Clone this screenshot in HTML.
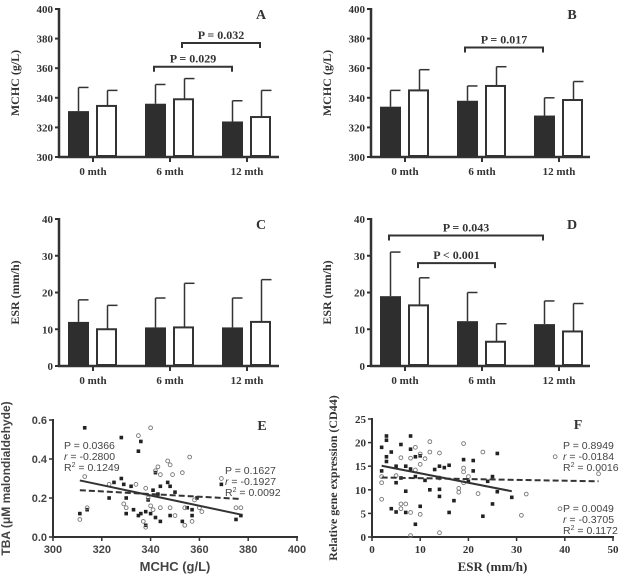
<!DOCTYPE html>
<html><head><meta charset="utf-8"><style>
body{margin:0;background:#fff}
svg{display:block}
.sr{font-family:"Liberation Serif",serif;font-weight:bold;fill:#333}
.ss{font-family:"Liberation Sans",sans-serif;fill:#444}
</style></head><body>
<svg id="fig" width="640" height="576" viewBox="0 0 640 576" xmlns="http://www.w3.org/2000/svg"></svg>
<script>
const NS="http://www.w3.org/2000/svg";
const svg=document.getElementById('fig');
const categories=["0 mth","6 mth","12 mth"];
// Panel A
const aBlack=[331,336,324], aBlackErr=[347,349,338], aWhite=[334.5,339,327], aWhiteErr=[345,353,345];
// Panel B
const bBlack=[334,338,328], bBlackErr=[345,348,340], bWhite=[345,348,338.5], bWhiteErr=[359,361,351];
// Panel C
const cBlack=[12,10.5,10.5], cBlackErr=[18,18.5,18.5], cWhite=[10,10.5,12], cWhiteErr=[16.5,22.5,23.5];
// Panel D
const dBlack=[19,12.2,11.4], dBlackErr=[31,20,17.7], dWhite=[16.5,6.6,9.4], dWhiteErr=[24,11.5,17];
const mchcTicks=[300,320,340,360,380,400];
const esrTicks=[0,10,20,30,40];
// Panel E scatter
const eSqX=[311,313,314,323,325,328,328,329,330,330,332,333,335,336,335,336,338,338,339,340,341,342,342,343,344,344,347,348,348,350,353,355,357,357,359,369,375,377];
const eSqY=[0.12,0.56,0.14,0.2,0.28,0.51,0.3,0.27,0.12,0.2,0.26,0.14,0.44,0.49,0.11,0.12,0.13,0.06,0.19,0.12,0.24,0.1,0.33,0.22,0.08,0.26,0.28,0.11,0.26,0.23,0.08,0.15,0.11,0.14,0.2,0.27,0.09,0.11];
const eCiX=[311,313,314,323,329,330,334,335,337,338,338,339,340,340,341,342,343,344,344,347,348,348,349,350,353,354,354,356,357,358,360,361,369,375,377];
const eCiY=[0.09,0.31,0.15,0.27,0.17,0.15,0.27,0.52,0.08,0.25,0.05,0.2,0.56,0.16,0.14,0.34,0.36,0.32,0.15,0.39,0.37,0.15,0.32,0.11,0.33,0.06,0.15,0.41,0.08,0.19,0.15,0.13,0.3,0.15,0.15];
const eSolid=[[311,0.29],[377,0.115]], eDash=[[311,0.24],[377,0.195]];
const eXTicks=[300,320,340,360,380,400], eYTicks=[0,0.2,0.4,0.6], eYLabels=["0.0","0.2","0.4","0.6"];
// Panel F scatter
const fSqX=[2,2,3,3,3,3,4,4,5,5,5,6,6,7,7,7,8,8,8,9,9,9,10,10,11,12,13,14,14,14,15,16,16,17,19,20,21,21,23,24,25,25,26,26,29];
const fSqY=[19,14,21.4,20.5,17,16,18,6,5.3,11.5,15,19.6,12.5,9.7,5.2,15,21.4,14.4,18.6,17,12.8,2.7,17.2,6.5,12,10,14.3,8.6,10.1,15,14.7,5.2,15.2,7.7,16.4,11.8,16.2,14,4.4,11.8,7,12.8,17.7,9.6,8.4];
const fCiX=[2,2,2,5,6,6,6,7,8,8,8,9,9,10,10,10,11,12,12,14,14,14,18,18,19,19,19,19,20,22,23,31,32,47,38,39];
const fCiY=[8,11.5,12.8,13,6,7,16.8,7,0.3,16.7,5.2,14.2,19,17.6,4.8,15.4,16.6,20.2,18,17.8,0.9,12.5,9.5,10.3,19.8,14.6,13.8,11.5,12.8,9.2,18,4.6,9.1,13.4,17,6];
const fSolid=[[2,15.1],[29,9.7]], fDash=[[2,12.6],[47,11.8]];
const fXTicks=[0,10,20,30,40,50], fYTicks=[0,5,10,15,20,25];

function el(tag,attrs,parent){const e=document.createElementNS(NS,tag);for(const k in attrs)e.setAttribute(k,attrs[k]);(parent||svg).appendChild(e);return e;}
function txt(s,attrs,parent){const e=el('text',attrs,parent);e.textContent=s;return e;}

function barPanel(id,ox,yTop,yBot,axEnd,vmin,vmax,ticks,black,blackErr,white,whiteErr,ylabel,brackets,letter){
  const g=el('g',{});
  
  
  const ys=v=>yBot-(v-vmin)/(vmax-vmin)*(yBot-yTop);
  const col="#333";
  ticks.forEach(t=>{
    el('line',{x1:ox-4,x2:ox,y1:ys(t),y2:ys(t),stroke:col,'stroke-width':2},g);
    const tl=txt(String(t),{x:ox-6,y:ys(t)+4,'text-anchor':'end','font-size':11,class:'sr'},g);
    
    
  });
  el('line',{x1:ox,x2:ox,y1:yTop-1,y2:yBot+1,stroke:col,'stroke-width':2.5},g);
  el('line',{x1:ox-1,x2:axEnd,y1:yBot,y2:yBot,stroke:col,'stroke-width':2.5},g);
  const gw=77, bw=21;
  categories.forEach((c,i)=>{
    const bx=ox+9+i*gw, wx=bx+29;
    const cx=(bx+bw+wx)/2;
    el('line',{x1:cx,x2:cx,y1:yBot,y2:yBot+5,stroke:col,'stroke-width':2},g);
    const cl=txt(c,{x:cx,y:yBot+18,'text-anchor':'middle','font-size':11,class:'sr'},g);
    
    
    el('line',{x1:bx+bw/2,x2:bx+bw/2,y1:ys(black[i]),y2:ys(blackErr[i]),stroke:col,'stroke-width':1.5},g);
    el('line',{x1:bx+bw/2,x2:bx+bw/2+10,y1:ys(blackErr[i]),y2:ys(blackErr[i]),stroke:col,'stroke-width':1.5},g);
    el('line',{x1:wx+bw/2,x2:wx+bw/2,y1:ys(white[i]),y2:ys(whiteErr[i]),stroke:col,'stroke-width':1.5},g);
    el('line',{x1:wx+bw/2,x2:wx+bw/2+10,y1:ys(whiteErr[i]),y2:ys(whiteErr[i]),stroke:col,'stroke-width':1.5},g);
    const b=el('rect',{x:bx,y:ys(black[i]),width:bw,height:yBot-ys(black[i]),fill:'#2e2e2e'},g);
    
    
    const w=el('rect',{x:wx,y:ys(white[i]),width:bw-2,height:yBot-ys(white[i])-1,fill:'#fff',stroke:col,'stroke-width':2},g);
    
    
  });
  brackets.forEach(b=>{
    const y=ys(b.v);
    el('path',{d:`M${b.x1},${y+5} V${y} H${b.x2} V${y+5}`,fill:'none',stroke:col,'stroke-width':2},g);
    const bl=txt(b.label,{x:(b.x1+b.x2)/2,y:y-4,'text-anchor':'middle','font-size':12,class:'sr'},g);
    
    
  });
  const yl=txt(ylabel,{x:0,y:0,transform:`translate(${ox-40},${(yTop+yBot)/2}) rotate(-90)`,'text-anchor':'middle','font-size':12,class:'sr'},g);
  
  
  const lt=txt(letter,{x:axEnd-18,y:yTop+10,'text-anchor':'middle','font-size':14,class:'sr'},g);
  
  
}
barPanel('a',59,9,157,279,300,400,mchcTicks,aBlack,aBlackErr,aWhite,aWhiteErr,'MCHC (g/L)',
  [{x1:154,x2:232,v:361,label:'P = 0.029'},{x1:182,x2:260,v:377,label:'P = 0.032'}],'A');
barPanel('b',371,9,157,590,300,400,mchcTicks,bBlack,bBlackErr,bWhite,bWhiteErr,'MCHC (g/L)',
  [{x1:465,x2:543,v:374,label:'P = 0.017'}],'B');
barPanel('c',59,219,366,279,0,40,esrTicks,cBlack,cBlackErr,cWhite,cWhiteErr,'ESR (mm/h)',[],'C');
barPanel('d',371,219,366,590,0,40,esrTicks,dBlack,dBlackErr,dWhite,dWhiteErr,'ESR (mm/h)',
  [{x1:389,x2:543,v:35.5,label:'P = 0.043'},{x1:418,x2:495,v:28,label:'P < 0.001'}],'D');

function scatterPanel(id,x0,x1,xmin,xmax,y0,y1,ymin,ymax,xt,xtl,yt,ytl,sqX,sqY,ciX,ciY,solid,dash,cls,xlabel,ylabel,letter,stats,ylOff){
  const g=el('g',{});
  
  
  const xs=v=>x0+(v-xmin)/(xmax-xmin)*(x1-x0);
  const ys=v=>y0-(v-ymin)/(ymax-ymin)*(y0-y1);
  const col="#333";
  el('line',{x1:x0,x2:x0,y1:y1-1,y2:y0+1,stroke:col,'stroke-width':2},g);
  el('line',{x1:x0-1,x2:x1+1,y1:y0,y2:y0,stroke:col,'stroke-width':2},g);
  xt.forEach((t,i)=>{
    el('line',{x1:xs(t),x2:xs(t),y1:y0,y2:y0+4,stroke:col,'stroke-width':1.5},g);
    const l=txt(xtl[i],{x:xs(t),y:y0+16,'text-anchor':'middle','font-size':11,class:cls,'font-weight':'bold'},g);
    
    
  });
  yt.forEach((t,i)=>{
    el('line',{x1:x0-4,x2:x0,y1:ys(t),y2:ys(t),stroke:col,'stroke-width':1.5},g);
    const l=txt(ytl[i],{x:x0-6,y:ys(t)+4,'text-anchor':'end','font-size':11,class:cls,'font-weight':'bold'},g);
    
    
  });
  sqX.forEach((x,i)=>{
    const p=el('rect',{x:xs(x)-1.8,y:ys(sqY[i])-1.8,width:3.6,height:3.6,fill:'#222'},g);
    
    
  });
  ciX.forEach((x,i)=>{
    const p=el('circle',{cx:xs(x),cy:ys(ciY[i]),r:1.9,fill:'none',stroke:'#777','stroke-width':0.9},g);
    
    
  });
  const s=el('line',{x1:xs(solid[0][0]),y1:ys(solid[0][1]),x2:xs(solid[1][0]),y2:ys(solid[1][1]),stroke:'#333','stroke-width':2},g);
  
  
  const d=el('line',{x1:xs(dash[0][0]),y1:ys(dash[0][1]),x2:xs(dash[1][0]),y2:ys(dash[1][1]),stroke:'#333','stroke-width':2,'stroke-dasharray':'6,3'},g);
  
  
  const xl=txt(xlabel,{x:(x0+x1)/2,y:y0+34,'text-anchor':'middle','font-size':13,class:cls,'font-weight':'bold'},g);
  
  
  const yl=txt(ylabel,{x:0,y:0,transform:`translate(${x0-ylOff},${(y0+y1)/2}) rotate(-90)`,'text-anchor':'middle','font-size':12,class:cls,'font-weight':'bold'},g);
  
  
  const lt=txt(letter,{x:x1-35,y:y1+10,'text-anchor':'middle','font-size':14,class:'sr'},g);
  
  
  stats.forEach(st=>{
    const t=el('text',{x:st.x,y:st.y,'font-size':10.5,class:'ss'},g);
    
    
    t.innerHTML=`<tspan x="${st.x}">P = ${st.p}</tspan><tspan x="${st.x}" dy="11"><tspan font-style="italic">r</tspan> = ${st.r}</tspan><tspan x="${st.x}" dy="11">R<tspan font-size="7" dy="-4">2</tspan><tspan dy="4"> = ${st.r2}</tspan></tspan>`;
  });
}
scatterPanel('e',53,297,300,400,537,420,0,0.6,eXTicks,eXTicks.map(String),eYTicks,eYLabels,eSqX,eSqY,eCiX,eCiY,eSolid,eDash,'ss','MCHC (g/L)','TBA (\u03bcM malondialdehyde)','E',
  [{x:64,y:449,p:'0.0366',r:'-0.2800',r2:'0.1249'},{x:225,y:474,p:'0.1627',r:'-0.1927',r2:'0.0092'}],43);
scatterPanel('f',372,613,0,50,537,419,0,25,fXTicks,fXTicks.map(String),fYTicks,fYTicks.map(String),fSqX,fSqY,fCiX,fCiY,fSolid,fDash,'sr','ESR (mm/h)','Relative gene expression (CD44)','F',
  [{x:563,y:449,p:'0.8949',r:'-0.0184',r2:'0.0016'},{x:563,y:512,p:'0.0049',r:'-0.3705',r2:'0.1172'}],35);
</script>
</body></html>
